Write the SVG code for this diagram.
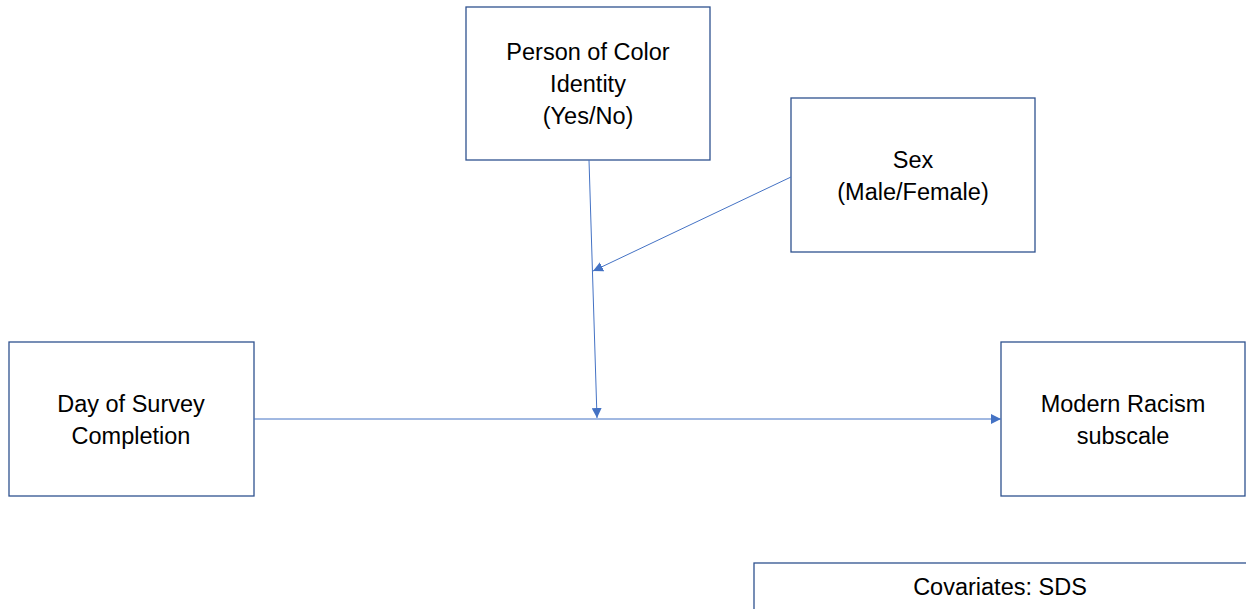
<svg xmlns="http://www.w3.org/2000/svg" width="1246" height="609" viewBox="0 0 1246 609">
<style>
.box{fill:#fff;stroke:#2F528F;stroke-width:1.3}
.t{font-family:"Liberation Sans",Arial,sans-serif;font-size:23.5px;fill:#000;text-anchor:middle}
.c{stroke:#4472C4;stroke-width:1;fill:none;marker-end:url(#a)}
</style>
<defs>
<marker id="a" viewBox="0 0 10 10" refX="10" refY="5" markerWidth="10" markerHeight="10" markerUnits="userSpaceOnUse" orient="auto">
<path d="M0,0 L10,5 L0,10 z" fill="#4472C4"/>
</marker>
</defs>
<rect width="1246" height="609" fill="#fff"/>
<g id="poc"><rect class="box" x="466" y="7" width="244" height="153"/>
<text class="t" x="588" y="60">Person of Color</text><text class="t" x="588" y="92">Identity</text><text class="t" x="588" y="124">(Yes/No)</text></g>
<g id="sex"><rect class="box" x="791" y="98" width="244" height="154"/>
<text class="t" x="913" y="168">Sex</text><text class="t" x="913" y="200">(Male/Female)</text></g>
<g id="day"><rect class="box" x="9" y="342" width="245" height="154"/>
<text class="t" x="131" y="412">Day of Survey</text><text class="t" x="131" y="444">Completion</text></g>
<g id="mr"><rect class="box" x="1001" y="342" width="244" height="154"/>
<text class="t" x="1123" y="412">Modern Racism</text><text class="t" x="1123" y="444">subscale</text></g>
<g id="cov"><rect class="box" x="754" y="563" width="500" height="60"/>
<text class="t" x="1000" y="595">Covariates: SDS</text></g>
<g id="connectors">
<line class="c" x1="589" y1="160" x2="597" y2="418"/>
<line class="c" x1="791" y1="177" x2="593" y2="271"/>
<line class="c" x1="254" y1="419" x2="1001" y2="419"/>
</g>
</svg>
